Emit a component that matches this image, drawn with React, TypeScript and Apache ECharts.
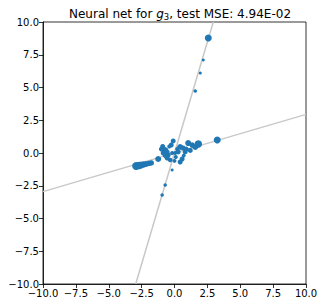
import React, { useEffect, useRef } from "react";
import * as echarts from "echarts";

const pointsX = [2.57, 2.19, 1.96, 1.58, -0.71, -0.94, -0.18,
  -2.92, -2.7, -2.54, -2.35, -2.16, -1.95, -1.77, -1.24,
  -0.1, -0.25, -0.71, -0.86, -0.56, -0.48, -0.18, 0.05, 0.28, 0.43, 0.66, 0.81, 1.04, 1.35, 1.58, 1.81,
  -0.56, -0.33, 0.43, 0.58, 3.25, -1.0, -0.4, 0.2, 0.1, -0.7, 0.9, 1.2, 0.7, -0.9, 0.0];
const pointsY = [8.78, 7.1, 6.1, 4.73, -2.44, -3.2, -1.3,
  -0.99, -0.95, -0.92, -0.88, -0.84, -0.8, -0.76, -0.46,
  0.92, 0.61, 0.23, 0.0, 0.08, -0.15, 0.0, 0.0, 0.08, 0.46, 0.38, 0.08, 0.76, 0.61, 0.46, 0.69,
  -0.38, -0.53, -0.69, -0.46, 0.99, 0.3, 0.5, 0.3, -0.3, -0.2, 0.3, 0.2, -0.2, 0.5, -0.6];
const pointsSize = [7, 3, 3, 3.5, 3.5, 3.5, 3,
  8, 7.5, 7, 6.5, 6, 5.5, 5.5, 6,
  5, 5, 6, 5, 5, 5, 4, 4, 5, 6, 5, 5, 6, 5.5, 6, 7.5,
  5, 4.5, 5, 5, 7, 5, 4, 4, 4, 5, 5, 5, 4, 5, 4];

const shallowLine = [[-10, -2.95], [10, 2.95]];
const steepLine = [[-2.95, -10], [2.95, 10]];

const fmt = (v: number) => v.toFixed(1).replace("-", "−");

export default function App() {
  const ref = useRef<HTMLDivElement>(null);
  useEffect(() => {
    if (!ref.current) return;
    const chart = echarts.init(ref.current, null, { renderer: "svg" });
    const font = "DejaVu Sans";
    const axisCommon = {
      type: "value" as const,
      min: -10,
      max: 10,
      interval: 2.5,
      splitLine: { show: false },
      axisLine: { show: true, onZero: false, lineStyle: { color: "#000", width: 0.8 } },
      axisTick: { show: true, inside: false, length: 4, lineStyle: { color: "#000", width: 0.8 } },
      axisLabel: { color: "#000", fontFamily: font, fontSize: 10, margin: 4, formatter: (v: number) => fmt(v) },
    };
    const pts = pointsX.map((x, i) => [x, pointsY[i], pointsSize[i]]);
    chart.setOption({
      animation: false,
      backgroundColor: "#fff",
      title: {
        text: "Neural net for {i|g}{s|3}, test MSE: 4.94E-02",
        left: 175,
        textAlign: "center",
        top: 1,
        textStyle: {
          fontFamily: font,
          fontSize: 12,
          fontWeight: "normal",
          color: "#000",
          rich: {
            i: { fontFamily: font, fontSize: 12, fontStyle: "italic", color: "#000" },
            s: { fontFamily: font, fontSize: 8.5, color: "#000", verticalAlign: "bottom", padding: [6, 0, 0, 0] },
          },
        },
      },
      grid: { left: 43, top: 22, width: 263, height: 262, show: true, borderColor: "#000", borderWidth: 0.8, backgroundColor: "transparent" },
      xAxis: axisCommon,
      yAxis: axisCommon,
      series: [
        { type: "line", data: shallowLine, showSymbol: false, symbol: "none", lineStyle: { color: "#c8c8c8", width: 1.5 }, z: 1, silent: true },
        { type: "line", data: steepLine, showSymbol: false, symbol: "none", lineStyle: { color: "#c8c8c8", width: 1.5 }, z: 1, silent: true },
        {
          type: "scatter",
          data: pts,
          symbolSize: (d: number[]) => d[2],
          itemStyle: { color: "#1f77b4", opacity: 1 },
          z: 3,
        },
      ],
    });
    return () => chart.dispose();
  }, []);
  return <div ref={ref} style={{ width: 324, height: 308, position: "absolute", left: 0, top: 0 }} />;
}
